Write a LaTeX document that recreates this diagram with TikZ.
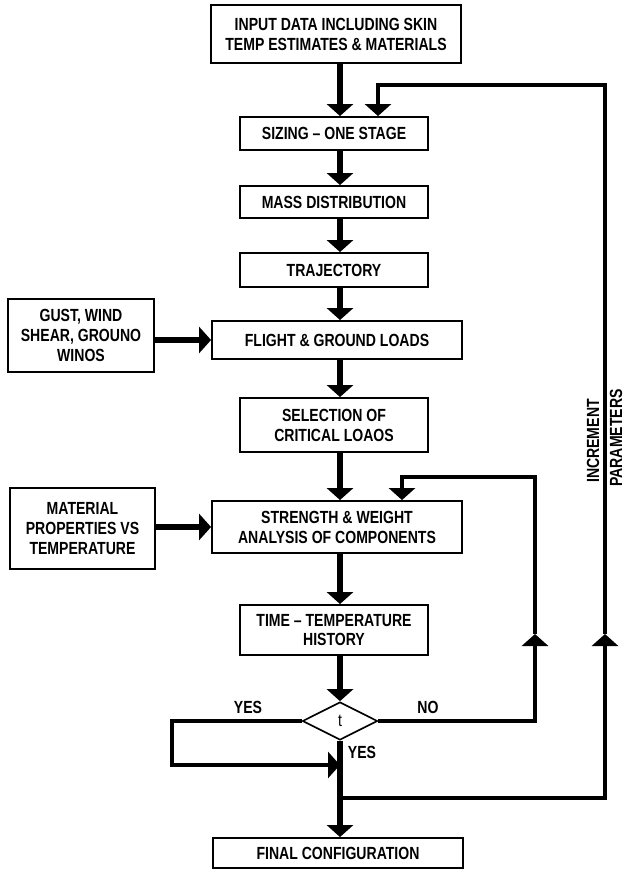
\documentclass[tikz,border=0pt]{standalone}
\usepackage{fontspec}
\setmainfont[FakeStretch=0.8]{Liberation Sans}
\usepackage{tikz}
\usetikzlibrary{positioning,shapes.geometric,arrows.meta,calc}

\begin{document}
\begin{tikzpicture}[x=0.03cm,y=-0.03cm,font=\fontsize{15}{17}\selectfont\bfseries,
  blk/.style={draw,line width=1.6pt,inner sep=2pt,align=center,minimum width=56.2mm},
  wide/.style={blk,minimum width=75mm},
  side/.style={blk,minimum width=43.6mm},
  dia/.style={draw,diamond,line width=1.4pt,inner sep=0pt,minimum width=22.5mm,minimum height=11.4mm,font=\fontsize{15}{17}\selectfont\mdseries},
  arr/.style={-{Triangle[length=3.6mm,width=7.8mm]},line width=5.5pt},
  lp/.style={-{Triangle[length=3.6mm,width=7.8mm]},line width=4pt},
  lbl/.style={inner sep=0pt}]
\useasboundingbox (0,0) rectangle (624,869);
% main column
\node[wide,minimum height=17.4mm] (inp) at (336,34) {INPUT DATA INCLUDING SKIN\\TEMP ESTIMATES \& MATERIALS};
\node[blk,minimum height=9.9mm] (size) at (334,133.5) {SIZING -- ONE STAGE};
\node[blk,minimum height=9.6mm] (mass) at (334,202) {MASS DISTRIBUTION};
\node[blk,minimum height=10.2mm] (traj) at (334,270) {TRAJECTORY};
\node[wide,minimum height=11.4mm] (flt) at (337,340) {FLIGHT \& GROUND LOADS};
\node[blk,minimum height=16.2mm] (sel) at (334,425) {SELECTION OF\\CRITICAL LOAOS};
\node[wide,minimum height=15.6mm] (str) at (337,527) {STRENGTH \& WEIGHT\\ANALYSIS OF COMPONENTS};
\node[blk,minimum height=15mm] (time) at (334,630) {TIME -- TEMPERATURE\\HISTORY};
\node[dia] (dec) at (340,721) {t};
\node[wide,minimum height=9mm] (fin) at (338,853) {FINAL CONFIGURATION};
% side inputs
\node[side,minimum height=21.9mm] (gust) at (81,335.5) {GUST, WIND\\SHEAR, GROUNO\\WINOS};
\node[side,minimum height=24.3mm] (mat) at (82.5,528.5) {MATERIAL\\PROPERTIES VS\\TEMPERATURE};
% spine
\coordinate (sp) at (340,0);
\draw[arr] (inp.south -| sp) -- (size.north -| sp);
\draw[arr] (size.south -| sp) -- (mass.north -| sp);
\draw[arr] (mass.south -| sp) -- (traj.north -| sp);
\draw[arr] (traj.south -| sp) -- (flt.north -| sp);
\draw[arr] (flt.south -| sp) -- (sel.north -| sp);
\draw[arr] (sel.south -| sp) -- (str.north -| sp);
\draw[arr] (str.south -| sp) -- (time.north -| sp);
\draw[arr] (time.south -| sp) -- (dec.north);
\draw[arr] (dec.south) -- (fin.north -| sp);
\draw[arr] (gust.east |- flt.west) -- (flt.west);
\draw[arr] (mat.east |- str.west) -- (str.west);
% loops
\coordinate (obr) at (340,798);
\coordinate (olp) at (605,634);
\coordinate (otop) at (378,85);
\draw[lp] (obr) -| (olp);
\draw[lp] (olp) |- (otop) -- (otop |- size.north);
\coordinate (ilp) at (535,634);
\coordinate (itop) at (402,477);
\draw[lp] (dec.east) -| (ilp);
\draw[lp] (ilp) |- (itop) -- (itop |- str.north);
\coordinate (ylp) at (172,765);
\draw[lp] (dec.west) -| (ylp) -- (ylp -| dec.south);
% labels
\node[lbl] (yl) at (248,707) {YES};
\node[lbl] (nl) at (428,707) {NO};
\node[lbl] (yb) at (362,752) {YES};
\node[lbl,rotate=90] (inc) at (593,441) {INCREMENT};
\node[lbl,rotate=90] (par) at (616,438) {PARAMETERS};
\end{tikzpicture}
\end{document}
